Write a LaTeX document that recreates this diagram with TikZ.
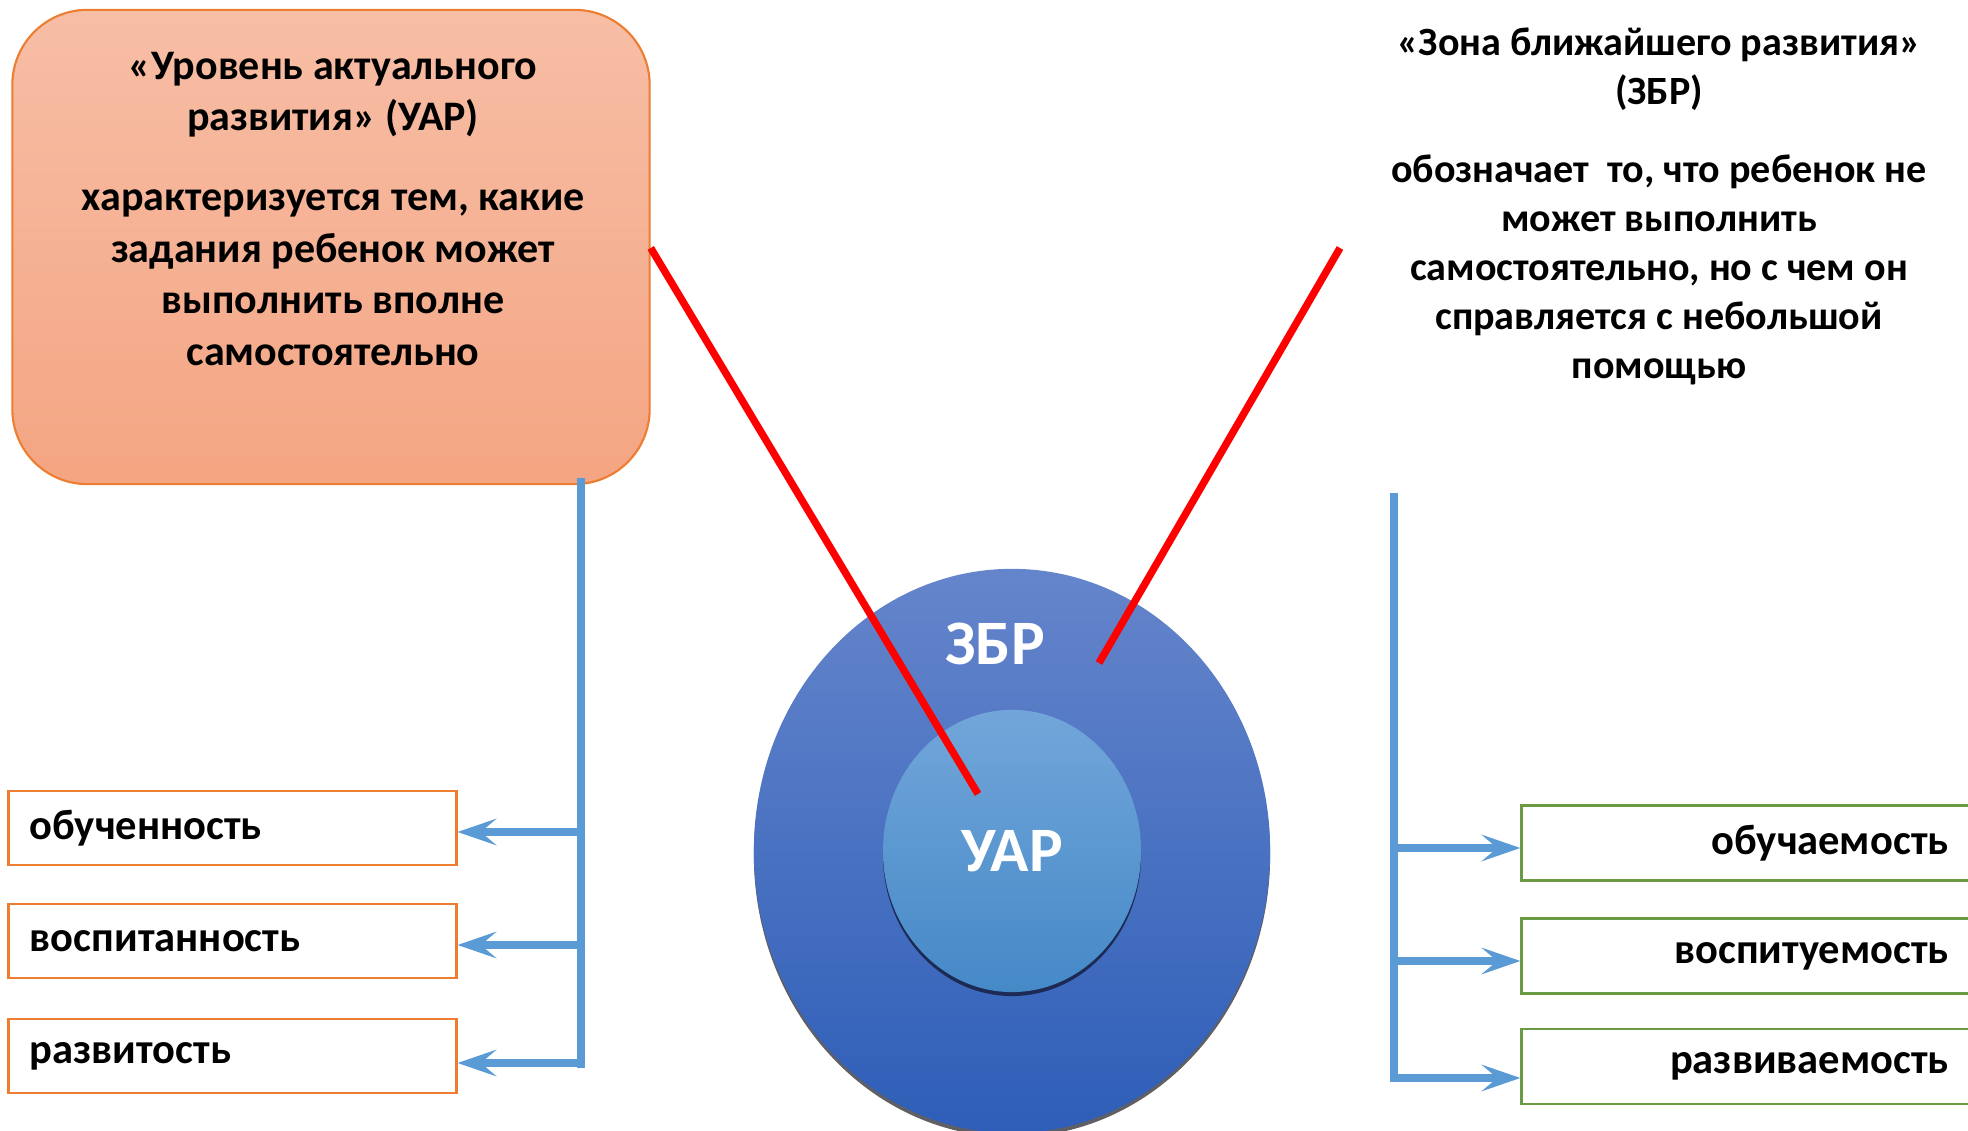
\documentclass[tikz,border=0pt]{standalone}
\usepackage{fontspec}
\setmainfont{Carlito}
\usepackage{tikz}
\usetikzlibrary{positioning}
\usetikzlibrary{arrows.meta}
\definecolor{boxorange}{HTML}{ED7D31}
\definecolor{boxgreen}{HTML}{6A9A44}
\definecolor{linkblue}{HTML}{5B9BD5}
\definecolor{uartop}{RGB}{247,190,166}
\definecolor{uarbottom}{RGB}{244,165,130}
\definecolor{outertop}{RGB}{101,133,203}
\definecolor{outerbottom}{RGB}{46,94,184}
\definecolor{innertop}{RGB}{114,166,218}
\definecolor{innerbottom}{RGB}{69,137,199}
\definecolor{innershadow}{RGB}{28,42,84}
\definecolor{outershadow}{RGB}{95,95,100}
\colorlet{linkred}{red}
\tikzstyle{uarbox}=[draw=boxorange,line width=0.6pt,rounded corners=0.75cm,
                    top color=uartop,bottom color=uarbottom,
                    minimum width=6.37cm,minimum height=4.74cm]
\tikzstyle{bigtext}=[align=center,font=\bfseries\fontsize{11.95pt}{14.65pt}\selectfont]
\tikzstyle{lefttag}=[draw=boxorange,line width=0.8pt,minimum width=4.47cm,minimum height=0.74cm,
                     text width=4.05cm,inner xsep=0.21cm,align=left,font=\bfseries\fontsize{12.1pt}{14pt}\selectfont]
\tikzstyle{righttag}=[draw=boxgreen,line width=0.8pt,minimum width=4.53cm,minimum height=0.75cm,
                      text width=4.0cm,inner xsep=0.26cm,align=right,font=\bfseries\fontsize{12.1pt}{14pt}\selectfont]
\tikzstyle{zonetext}=[white,font=\bfseries\fontsize{18pt}{21pt}\selectfont]
\tikzstyle{trunk}=[linkblue,line width=2.3pt]
\tikzstyle{branch}=[linkblue,line width=2.3pt,-{Stealth[length=11pt,width=7.5pt,inset=4.4pt]}]
\tikzstyle{pointer}=[linkred,line width=2.1pt]

\begin{document}
\begin{tikzpicture}[x=0.01cm,y=-0.01cm]

\useasboundingbox (0,0) rectangle (1968,1131);

% Circles
\fill[outershadow] (1012,855) ellipse [x radius=2.58cm, y radius=2.82cm];
\shade[top color=outertop,bottom color=outerbottom]
  (1012,851) ellipse [x radius=2.58cm, y radius=2.82cm];
\fill[innershadow] (1012,855) ellipse [x radius=1.29cm, y radius=1.41cm];
\shade[top color=innertop,bottom color=innerbottom]
  (1012,851) ellipse [x radius=1.29cm, y radius=1.41cm];
\node[zonetext] (zbr) at (995,644) {ЗБР};
\node[zonetext] (uar) at (1012,851) {УАР};

% Left box
\node[uarbox] (uarbox) at (331,247) {};
\node[bigtext] (uartext) at (333,209) {«Уровень актуального\\развития» (УАР)\\[8.1pt]характеризуется тем, какие\\задания ребенок может\\выполнить вполне\\самостоятельно};

% Right text
\node[bigtext,font=\bfseries\fontsize{11.4pt}{13.94pt}\selectfont] (zbrtext) at (1659,206)
  {«Зона ближайшего развития»\\(ЗБР)\\[8.25pt]обозначает~ то, что ребенок не\\может выполнить\\самостоятельно, но с чем он\\справляется с небольшой\\помощью};

% Red pointers
\coordinate (uarend) at (978,794);
\coordinate (zbrstart) at (1340,248);
\coordinate (zbrend) at (1099,663);
\draw[pointer] (uarbox.east |- 0,248) -- (uarend);
\draw[pointer] (zbrstart) -- (zbrend);

% Left tags
\node[lefttag] (obuchen) at (232.5,828) {обученность};
\node[lefttag] (vospitan) at (232.5,941) {воспитанность};
\node[lefttag] (razvit) at (232.5,1056) {развитость};

\coordinate (ltop) at (581,478);
\coordinate (lbot) at (581,1068);
\draw[trunk] (ltop) -- (lbot);
\coordinate (l1) at (581,832);
\coordinate (l2) at (581,945);
\coordinate (l3) at (581,1063);
\draw[branch] (l1) -- (l1 -| obuchen.east);
\draw[branch] (l2) -- (l2 -| vospitan.east);
\draw[branch] (l3) -- (l3 -| razvit.east);

% Right tags
\node[righttag] (obuchaem) at (1748.5,843) {обучаемость};
\node[righttag] (vospituem) at (1748.5,956) {воспитуемость};
\node[righttag] (razvivaem) at (1748.5,1066.5) {развиваемость};

\coordinate (rtop) at (1394,493);
\coordinate (rbot) at (1394,1082);
\draw[trunk] (rtop) -- (rbot);
\coordinate (r1) at (1394,848);
\coordinate (r2) at (1394,961);
\coordinate (r3) at (1394,1078);
\draw[branch] (r1) -- (r1 -| obuchaem.west);
\draw[branch] (r2) -- (r2 -| vospituem.west);
\draw[branch] (r3) -- (r3 -| razvivaem.west);

\end{tikzpicture}
\end{document}
